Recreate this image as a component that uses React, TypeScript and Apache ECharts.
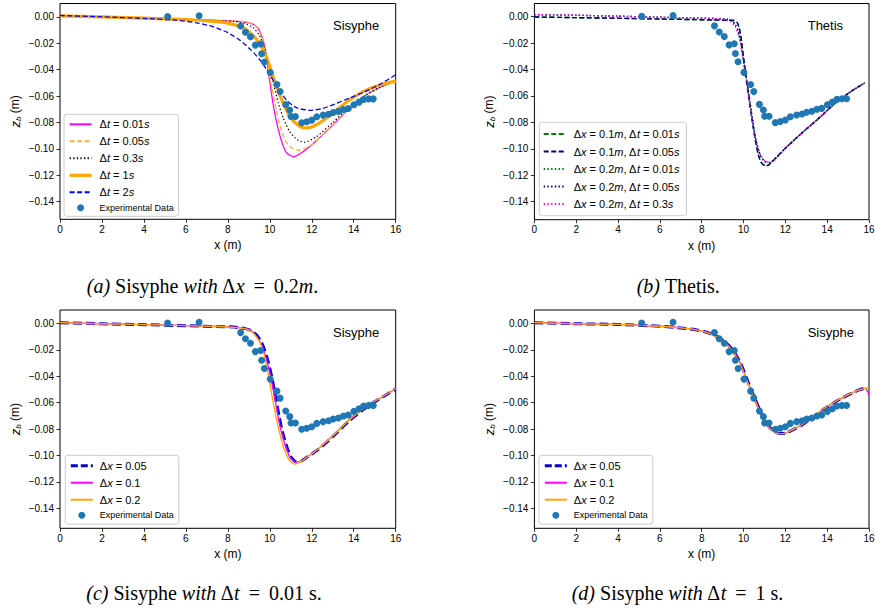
import React, { useEffect, useRef } from 'react';
import * as echarts from 'echarts';

// ---------- data ----------
const expX = [5.13, 6.63, 8.61, 8.84, 9.08, 9.31, 9.56, 9.61, 9.74, 10.02, 10.34, 10.49, 10.76, 10.95, 11.01, 11.22, 11.52, 11.76, 12.0, 12.24, 12.54, 12.8, 13.02, 13.27, 13.51, 13.74, 14.01, 14.25, 14.47, 14.71, 14.93];
const expY = [0.0003, 0.0008, -0.007, -0.0116, -0.0151, -0.0214, -0.0206, -0.0279, -0.0342, -0.0422, -0.0513, -0.0566, -0.0664, -0.0706, -0.0754, -0.0754, -0.0802, -0.0794, -0.0782, -0.0757, -0.0744, -0.0737, -0.0724, -0.0716, -0.0701, -0.0694, -0.0666, -0.0646, -0.0626, -0.0621, -0.0621];

// (a) Sisyphe, dx = 0.2 m
const aDt001 = [[0, 0.0008], [2, 0.0], [4, -0.001], [6, -0.002], [8, -0.003], [8.8, -0.0038], [9.2, -0.0055], [9.45, -0.009], [9.65, -0.016], [9.8, -0.026], [9.92, -0.04], [10.05, -0.055], [10.2, -0.07], [10.4, -0.085], [10.6, -0.096], [10.8, -0.103], [11.15, -0.106], [11.6, -0.102], [12.2, -0.094], [13.0, -0.082], [13.8, -0.0695], [14.6, -0.059], [15.3, -0.053], [16, -0.0487]];
const aDt005 = [[0, 0.0008], [2, 0.0], [4, -0.001], [6, -0.002], [8, -0.003], [8.8, -0.0038], [9.2, -0.0055], [9.45, -0.0095], [9.65, -0.017], [9.8, -0.027], [9.95, -0.04], [10.1, -0.054], [10.3, -0.07], [10.5, -0.083], [10.75, -0.094], [11.0, -0.099], [11.4, -0.101], [11.9, -0.098], [12.4, -0.091], [13.0, -0.082], [13.8, -0.069], [14.6, -0.059], [15.3, -0.053], [16, -0.0487]];
const aDt03 = [[0, 0.0008], [2, 0.0], [4, -0.001], [6, -0.002], [7.5, -0.0028], [8.3, -0.0035], [8.8, -0.005], [9.2, -0.008], [9.5, -0.014], [9.75, -0.024], [10.0, -0.039], [10.2, -0.052], [10.4, -0.065], [10.65, -0.077], [10.95, -0.087], [11.3, -0.093], [11.65, -0.095], [12.2, -0.091], [13.0, -0.08], [13.8, -0.068], [14.6, -0.059], [15.3, -0.053], [16, -0.0487]];
const aDt1 = [[0, 0.0008], [2, 0.0], [4, -0.001], [6, -0.002], [7, -0.003], [7.8, -0.0042], [8.3, -0.006], [8.8, -0.009], [9.2, -0.014], [9.5, -0.02], [9.8, -0.029], [10.05, -0.04], [10.3, -0.052], [10.6, -0.064], [10.9, -0.074], [11.2, -0.08], [11.6, -0.084], [11.9, -0.0838], [12.3, -0.081], [12.8, -0.0755], [13.3, -0.069], [13.8, -0.063], [14.4, -0.057], [15.0, -0.053], [15.5, -0.0505], [16, -0.0487]];
const aDt2 = [[0, 0.001], [2, 0.0], [4, -0.0012], [5.5, -0.0025], [6.5, -0.0045], [7.3, -0.0075], [8.0, -0.012], [8.6, -0.018], [9.1, -0.025], [9.5, -0.032], [9.85, -0.04], [10.2, -0.049], [10.5, -0.057], [10.85, -0.064], [11.3, -0.069], [11.9, -0.0708], [12.5, -0.0695], [13.1, -0.066], [13.8, -0.0615], [14.5, -0.057], [15.2, -0.0515], [15.6, -0.0478], [16, -0.0438]];

// (b) Thetis
const bDx01Dt001 = [[0, -0.0003], [2, -0.0008], [4, -0.0013], [6, -0.0018], [8, -0.0024], [9.2, -0.0028], [9.55, -0.003], [9.7, -0.0045], [9.8, -0.009], [9.9, -0.018], [10.0, -0.031], [10.12, -0.045], [10.25, -0.06], [10.4, -0.077], [10.55, -0.092], [10.7, -0.104], [10.85, -0.1105], [11.05, -0.1128], [11.2, -0.1122], [11.6, -0.106], [12.1, -0.098], [12.9, -0.0865], [13.7, -0.0755], [14.2, -0.068], [14.5, -0.064], [15.2, -0.056], [15.8, -0.0502]];
const bDx01Dt005 = [[0, -0.0003], [2, -0.0008], [4, -0.0013], [6, -0.0018], [8, -0.0024], [9.2, -0.0028], [9.55, -0.003], [9.7, -0.0045], [9.8, -0.009], [9.9, -0.018], [10.0, -0.031], [10.12, -0.045], [10.25, -0.06], [10.4, -0.077], [10.55, -0.092], [10.7, -0.104], [10.85, -0.1105], [11.05, -0.1128], [11.2, -0.1122], [11.6, -0.106], [12.1, -0.098], [12.9, -0.0865], [13.7, -0.0755], [14.2, -0.068], [14.5, -0.064], [15.2, -0.056], [15.8, -0.0502]];
const bDx02Dt001 = [[0, 0.0015], [2, 0.001], [4, 0.0003], [6, -0.0005], [7.5, -0.001], [8.6, -0.0015], [9.2, -0.002], [9.45, -0.0035], [9.6, -0.006], [9.75, -0.011], [9.87, -0.02], [10.0, -0.033], [10.15, -0.048], [10.3, -0.064], [10.45, -0.08], [10.6, -0.094], [10.8, -0.105], [11.0, -0.1095], [11.25, -0.1103], [11.6, -0.106], [12.1, -0.098], [12.9, -0.0865], [13.7, -0.0755], [14.2, -0.068], [14.5, -0.064], [15.2, -0.056], [15.8, -0.0502]];
const bDx02Dt005 = [[0, 0.0015], [2, 0.001], [4, 0.0003], [6, -0.0005], [7.5, -0.001], [8.6, -0.0015], [9.2, -0.002], [9.45, -0.0035], [9.6, -0.006], [9.75, -0.011], [9.87, -0.02], [10.0, -0.033], [10.15, -0.048], [10.3, -0.064], [10.45, -0.08], [10.6, -0.094], [10.8, -0.105], [11.0, -0.1095], [11.25, -0.1103], [11.6, -0.106], [12.1, -0.098], [12.9, -0.0865], [13.7, -0.0755], [14.2, -0.068], [14.5, -0.064], [15.2, -0.056], [15.8, -0.0502]];
const bDx02Dt03 = [[0, 0.0015], [2, 0.001], [4, 0.0003], [6, -0.0005], [7.5, -0.001], [8.6, -0.0015], [9.1, -0.0022], [9.4, -0.004], [9.6, -0.0075], [9.78, -0.015], [9.92, -0.027], [10.05, -0.041], [10.2, -0.057], [10.35, -0.072], [10.5, -0.086], [10.65, -0.097], [10.85, -0.1055], [11.05, -0.1095], [11.3, -0.1102], [11.6, -0.1065], [12.1, -0.098], [12.9, -0.0865], [13.7, -0.0755], [14.2, -0.068], [14.5, -0.064], [15.2, -0.056], [15.8, -0.0502]];

// (c) Sisyphe, dt = 0.01 s
const cDx005 = [[0, 0.0005], [2, -0.0003], [4, -0.001], [6, -0.0018], [7.5, -0.0024], [8.3, -0.0028], [8.8, -0.0038], [9.1, -0.0055], [9.35, -0.0085], [9.55, -0.013], [9.7, -0.018], [9.85, -0.025], [10.0, -0.034], [10.15, -0.045], [10.3, -0.058], [10.45, -0.071], [10.6, -0.082], [10.8, -0.093], [11.0, -0.101], [11.25, -0.1048], [11.5, -0.1042], [11.8, -0.101], [12.3, -0.0955], [13.0, -0.0858], [13.8, -0.0735], [14.6, -0.0635], [15.4, -0.0555], [16, -0.0497]];
const cDx01 = [[0, 0.0005], [2, -0.0003], [4, -0.001], [6, -0.0018], [7.5, -0.0024], [8.3, -0.0028], [8.8, -0.0038], [9.1, -0.0055], [9.3, -0.0085], [9.5, -0.013], [9.65, -0.018], [9.8, -0.025], [9.95, -0.034], [10.1, -0.045], [10.25, -0.058], [10.4, -0.071], [10.55, -0.082], [10.75, -0.093], [10.95, -0.101], [11.2, -0.105], [11.5, -0.1042], [11.8, -0.101], [12.3, -0.095], [13.0, -0.085], [13.8, -0.073], [14.6, -0.063], [15.4, -0.0553], [16, -0.0495]];
const cDx02 = [[0, 0.0005], [2, -0.0003], [4, -0.001], [6, -0.0018], [7.5, -0.0024], [8.3, -0.003], [8.8, -0.004], [9.1, -0.006], [9.3, -0.009], [9.5, -0.0135], [9.65, -0.019], [9.78, -0.027], [9.9, -0.037], [10.05, -0.05], [10.2, -0.063], [10.35, -0.075], [10.55, -0.088], [10.75, -0.098], [10.95, -0.104], [11.17, -0.1065], [11.5, -0.1045], [11.8, -0.101], [12.3, -0.095], [13.0, -0.0852], [13.8, -0.073], [14.6, -0.063], [15.4, -0.0552], [16, -0.0495]];

// (d) Sisyphe, dt = 1 s
const dDx005 = [[0, 0.0005], [2, -0.0003], [4, -0.0008], [6, -0.0022], [7, -0.0035], [7.6, -0.0045], [8.1, -0.0062], [8.5, -0.0083], [8.83, -0.0108], [9.13, -0.0143], [9.38, -0.0183], [9.63, -0.0238], [9.88, -0.0308], [10.13, -0.0408], [10.33, -0.0488], [10.53, -0.0563], [10.78, -0.0658], [11.03, -0.0743], [11.28, -0.0793], [11.53, -0.0823], [11.78, -0.0834], [12.03, -0.083], [12.33, -0.0808], [12.83, -0.0765], [13.33, -0.071], [13.83, -0.065], [14.43, -0.059], [15.03, -0.054], [15.5, -0.0506], [15.9, -0.0486]];
const dDx01 = [[0, 0.0005], [2, -0.0003], [4, -0.0008], [6, -0.0022], [7, -0.0035], [7.6, -0.0045], [8.1, -0.0063], [8.5, -0.0084], [8.82, -0.0109], [9.12, -0.0144], [9.37, -0.0184], [9.62, -0.0239], [9.87, -0.0309], [10.12, -0.0409], [10.32, -0.0489], [10.52, -0.0564], [10.77, -0.0659], [11.02, -0.0744], [11.27, -0.0794], [11.52, -0.0824], [11.77, -0.0835], [12.02, -0.083], [12.32, -0.0808], [12.82, -0.0765], [13.32, -0.071], [13.82, -0.065], [14.42, -0.059], [15.02, -0.054], [15.5, -0.0505], [15.8, -0.0492], [15.9, -0.0505], [16, -0.054]];
const dDx02 = [[0, 0.0005], [2, -0.0003], [4, -0.0008], [6, -0.0022], [7, -0.0035], [7.6, -0.0045], [8.1, -0.0063], [8.5, -0.0085], [8.8, -0.011], [9.1, -0.0145], [9.35, -0.0185], [9.6, -0.024], [9.85, -0.031], [10.1, -0.041], [10.3, -0.049], [10.5, -0.0565], [10.75, -0.066], [11.0, -0.0745], [11.25, -0.0795], [11.5, -0.0825], [11.75, -0.0835], [12.0, -0.083], [12.3, -0.0808], [12.8, -0.0765], [13.3, -0.071], [13.8, -0.065], [14.4, -0.059], [15.0, -0.054], [15.5, -0.0505], [15.8, -0.0492], [16, -0.0483]];

const xTicks = [0, 2, 4, 6, 8, 10, 12, 14, 16];
const yTicks = [-0.14, -0.12, -0.1, -0.08, -0.06, -0.04, -0.02, 0];

const legendA = ['Δt = 0.01s', 'Δt = 0.05s', 'Δt = 0.3s', 'Δt = 1s', 'Δt = 2s'];
const legendB = ['Δx = 0.1m, Δt = 0.01s', 'Δx = 0.1m, Δt = 0.05s', 'Δx = 0.2m, Δt = 0.01s', 'Δx = 0.2m, Δt = 0.05s', 'Δx = 0.2m, Δt = 0.3s'];
const legendCD = ['Δx = 0.05', 'Δx = 0.1', 'Δx = 0.2'];
const EXP = 'Experimental Data';

// ---------- styling ----------
const SANS = '"Liberation Sans", Arial, Helvetica, sans-serif';
const SERIF = '"Liberation Serif", "Times New Roman", serif';

const gridBoxes = [
  { left: 60, top: 3.5, width: 335.7, height: 215.8, ymin: -0.1533, ymax: 0.0101 },
  { left: 534.4, top: 3.5, width: 334.6, height: 216.2, ymin: -0.1536, ymax: 0.0099 },
  { left: 60, top: 310, width: 335.7, height: 218.3, ymin: -0.1551, ymax: 0.0101 },
  { left: 534.4, top: 310, width: 334.6, height: 218.3, ymin: -0.1551, ymax: 0.0101 },
];

// explicit legend line styles for the thick entries
const thickLegend: Record<string, any> = {
  'Δt = 1s': { width: 3.2, type: 'solid', color: '#ffa500' },
  'Δx = 0.05': { width: 3, type: [7, 3], color: '#0000dd' },
};

const fmtY = (v: number) => {
  const s = Math.abs(v).toFixed(2);
  return v < -1e-9 ? '\u2212' + s : s;
};

function lineSeries(name: string, data: number[][], gi: number, color: string, width: number, type: any, opacity = 1) {
  return {
    type: 'line', name, data, xAxisIndex: gi, yAxisIndex: gi,
    symbol: 'none', showSymbol: false, smooth: 0.2,
    lineStyle: { color, width, type, opacity, cap: 'butt' },
    itemStyle: { color },
    z: 2, silent: true,
  };
}

function expSeries(gi: number) {
  return {
    type: 'scatter', name: EXP, xAxisIndex: gi, yAxisIndex: gi,
    data: expX.map((x, i) => [x, expY[i]]),
    symbol: 'circle', symbolSize: 7,
    itemStyle: { color: '#1f77b4', opacity: 1 },
    z: 3, silent: true,
  };
}

const legendFmt = (name: string) =>
  name === EXP ? '{e|' + name + '}' : name.replace(/[a-z]/g, (c) => '{i|' + c + '}');

function legend(names: string[], withExp: boolean, left: number, top: number, padding: number[], itemWidth: number, itemGap: number, textPad: number) {
  const data: any[] = names.map((n) => (thickLegend[n] ? { name: n, lineStyle: thickLegend[n] } : { name: n }));
  if (withExp) data.push({ name: EXP, icon: 'circle', itemStyle: { opacity: 1 } });
  return {
    orient: 'vertical', left, top, padding, itemWidth, itemHeight: 7, itemGap,
    borderColor: '#cccccc', borderWidth: 1, borderRadius: 3, backgroundColor: 'rgba(255,255,255,0.8)',
    selectedMode: false,
    itemStyle: { opacity: 0 },
    textStyle: {
      fontSize: 11, fontFamily: SANS, color: '#000', lineHeight: 12, padding: [0, 0, 0, textPad],
      rich: {
        i: { fontStyle: 'italic', fontSize: 11, fontFamily: SANS, color: '#000', lineHeight: 12 },
        e: { fontSize: 9, fontFamily: SANS, color: '#000', lineHeight: 9 },
      },
    },
    formatter: legendFmt,
    data,
  };
}

export default function App() {
  const ref = useRef<HTMLDivElement>(null);
  useEffect(() => {
    if (!ref.current) return;
    const chart = echarts.init(ref.current, null, { renderer: 'svg' });

    const grid = gridBoxes.map((g) => ({
      left: g.left, top: g.top, width: g.width, height: g.height,
      show: true, borderColor: '#000', borderWidth: 1, backgroundColor: 'transparent',
      containLabel: false, outerBoundsMode: 'none',
    }));

    const xAxis = gridBoxes.map((g, i) => ({
      type: 'value', gridIndex: i, min: 0, max: 16, interval: 2,
      name: 'x (m)', nameLocation: 'middle', nameGap: 20,
      nameTextStyle: { fontSize: 12, fontFamily: SANS, color: '#000' },
      axisLine: { show: false, onZero: false },
      axisTick: { show: true, length: 3.5, lineStyle: { color: '#000', width: 0.8 }, customValues: xTicks },
      axisLabel: { fontSize: 10, fontFamily: SANS, color: '#000', margin: 5, customValues: xTicks, showMinLabel: true, showMaxLabel: true },
      splitLine: { show: false },
    }));

    const yAxis = gridBoxes.map((g, i) => ({
      type: 'value', gridIndex: i, min: g.ymin, max: g.ymax,
      name: '{z|z}{b|b}{n| (m)}', nameLocation: 'middle', nameGap: 38,
      nameTextStyle: {
        fontSize: 12, fontFamily: SANS, color: '#000',
        rich: {
          z: { fontStyle: 'italic', fontSize: 13, fontFamily: SANS, color: '#000' },
          b: { fontStyle: 'italic', fontSize: 8, fontFamily: SANS, color: '#000', padding: [6, 0, 0, 0] },
          n: { fontSize: 12, fontFamily: SANS, color: '#000' },
        },
      },
      axisLine: { show: false, onZero: false },
      axisTick: { show: true, length: 3.5, lineStyle: { color: '#000', width: 0.8 }, customValues: yTicks },
      axisLabel: { fontSize: 10, fontFamily: SANS, color: '#000', margin: 6, formatter: fmtY, customValues: yTicks },
      splitLine: { show: false },
    }));

    const series: any[] = [
      lineSeries('Δt = 0.01s', aDt001, 0, '#ff00ff', 1.3, 'solid'),
      lineSeries('Δt = 0.05s', aDt005, 0, '#ffb02e', 1.3, [5, 2.5]),
      lineSeries('Δt = 0.3s', aDt03, 0, '#000000', 1.3, [1.3, 2.3]),
      lineSeries('Δt = 1s', aDt1, 0, '#ffa500', 3.2, 'solid'),
      lineSeries('Δt = 2s', aDt2, 0, '#0000ff', 1.3, [5, 2.5]),
      expSeries(0),

      lineSeries('Δx = 0.1m, Δt = 0.01s', bDx01Dt001, 1, '#008000', 1.4, [5, 2.5]),
      lineSeries('Δx = 0.1m, Δt = 0.05s', bDx01Dt005, 1, '#000080', 1.4, [5, 2.5]),
      lineSeries('Δx = 0.2m, Δt = 0.01s', bDx02Dt001, 1, '#008000', 1.4, [1.4, 2.3]),
      lineSeries('Δx = 0.2m, Δt = 0.05s', bDx02Dt005, 1, '#000080', 1.4, [1.4, 2.3]),
      lineSeries('Δx = 0.2m, Δt = 0.3s', bDx02Dt03, 1, '#ff00ff', 1.4, [1.4, 2.3]),
      expSeries(1),

      lineSeries('Δx = 0.05', cDx005, 2, '#0000dd', 3, [9, 4]),
      lineSeries('Δx = 0.1', cDx01, 2, '#ff00ff', 1.3, 'solid'),
      lineSeries('Δx = 0.2', cDx02, 2, '#ffa500', 1.3, 'solid'),
      expSeries(2),

      lineSeries('Δx = 0.05', dDx005, 3, '#0000dd', 3, [9, 4]),
      lineSeries('Δx = 0.1', dDx01, 3, '#ff00ff', 1.3, 'solid'),
      lineSeries('Δx = 0.2', dDx02, 3, '#ffa500', 1.3, 'solid'),
      expSeries(3),
    ];

    const legends = [
      legend(legendA, true, 64, 114.3, [4, 5, 4, 4], 22, 5, 3),
      legend(legendB, false, 539.3, 122.3, [5.7, 7, 5.7, 3.4], 21, 5.5, 4),
      legend(legendCD, true, 65.3, 455.3, [4.4, 5, 4.5, 4], 22, 5, 2),
      legend(legendCD, true, 539, 455.3, [4.4, 5, 4.5, 4.3], 22, 5, 2),
    ];

    const titleStyle = { fontSize: 13, fontFamily: SANS, fill: '#000', align: 'left', verticalAlign: 'middle' };
    const capRich = {
      i: { fontStyle: 'italic', fontSize: 20, fontFamily: SERIF, fill: '#000' },
    };
    const capStyle = { fontSize: 20, fontFamily: SERIF, fill: '#000', align: 'center', verticalAlign: 'middle', rich: capRich };
    const EQ = '\u2009 = \u2009';

    const graphic = [
      { type: 'text', x: 333, y: 25, style: { ...titleStyle, text: 'Sisyphe' }, silent: true },
      { type: 'text', x: 807.7, y: 25, style: { ...titleStyle, text: 'Thetis' }, silent: true },
      { type: 'text', x: 333, y: 332.3, style: { ...titleStyle, text: 'Sisyphe' }, silent: true },
      { type: 'text', x: 807.7, y: 332.3, style: { ...titleStyle, text: 'Sisyphe' }, silent: true },
      { type: 'text', x: 202.5, y: 286, style: { ...capStyle, text: '{i|(a)} Sisyphe {i|with} Δ{i|x}' + EQ + '0.2{i|m}.' }, silent: true },
      { type: 'text', x: 678.3, y: 286, style: { ...capStyle, text: '{i|(b)} Thetis.' }, silent: true },
      { type: 'text', x: 204, y: 593, style: { ...capStyle, text: '{i|(c)} Sisyphe {i|with} Δ{i|t}' + EQ + '0.01 s.' }, silent: true },
      { type: 'text', x: 677.5, y: 593, style: { ...capStyle, text: '{i|(d)} Sisyphe {i|with} Δ{i|t}' + EQ + '1 s.' }, silent: true },
    ];

    chart.setOption({
      animation: false,
      backgroundColor: '#ffffff',
      grid, xAxis, yAxis, series,
      legend: legends,
      graphic: { elements: graphic },
    } as any);

    return () => chart.dispose();
  }, []);

  return <div ref={ref} style={{ position: 'absolute', left: 0, top: 0, width: 875, height: 609 }} />;
}
